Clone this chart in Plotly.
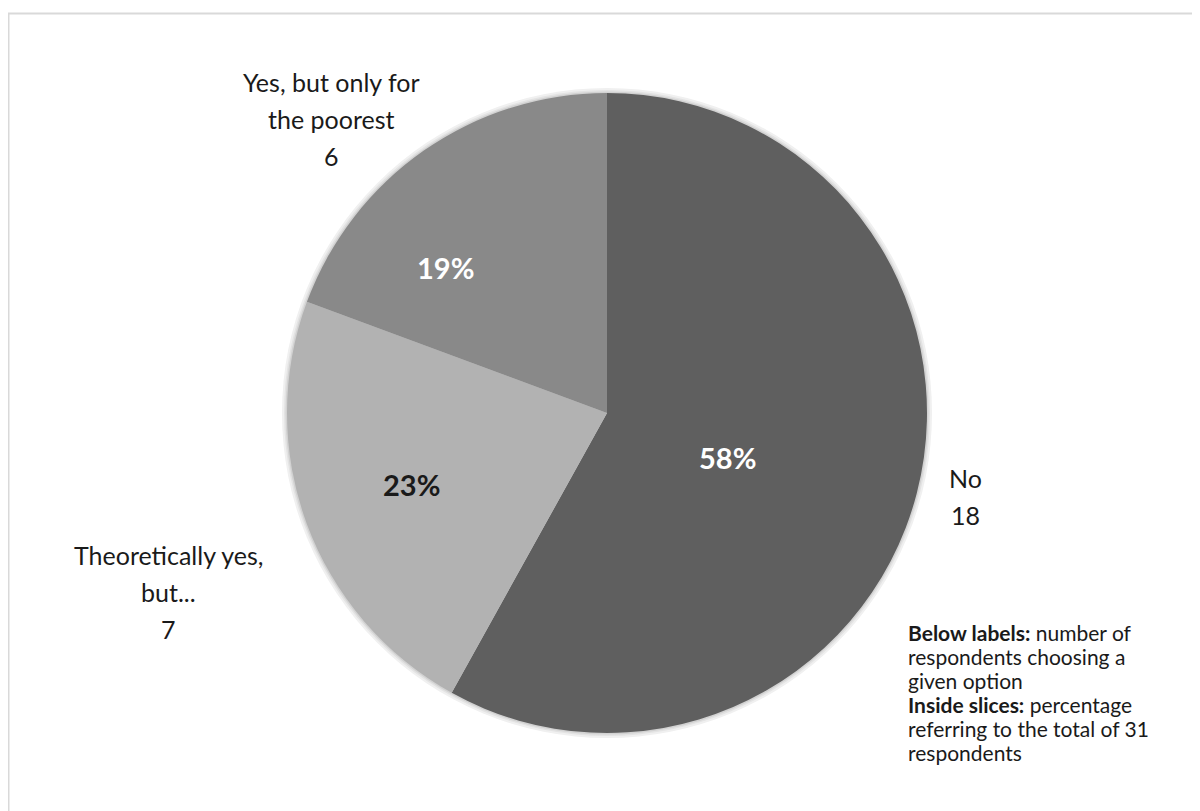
import plotly.graph_objects as go

categories = ["No", "Theoretically yes, but...", "Yes, but only for the poorest"]
counts = [18, 7, 6]
slice_colors = ["#5f5f5f", "#b2b2b2", "#898989"]
pct_colors = ["#ffffff", "#1a1a1a", "#ffffff"]
label_lines = [["No", "18"], ["Theoretically yes,", "but...", "7"], ["Yes, but only for", "the poorest", "6"]]

W, H = 1200, 811
OFF = 8  # page body margin offset
FONT = "Lato, 'Open Sans', sans-serif"


def px(x):
    return (x - OFF) / W


def py(y):
    return 1 - (y - OFF) / H


fig = go.Figure()
# soft shadow behind the pie
for grow, col in [(5, "#f0f0f0"), (3, "#e3e3e3"), (1.5, "#d2d2d2")]:
    fig.add_trace(go.Pie(
        labels=["shadow"], values=[1], sort=False,
        marker=dict(colors=[col], line=dict(width=0)),
        textinfo="none", hoverinfo="skip", showlegend=False,
        domain=dict(x=[px(287 - grow), px(927 + grow)], y=[py(733 + grow), py(93 - grow)]),
    ))

fig.add_trace(go.Pie(
    labels=categories,
    values=counts,
    sort=False,
    direction="clockwise",
    rotation=0,
    marker=dict(colors=slice_colors, line=dict(width=0)),
    textinfo="none",
    hoverinfo="label+value+percent",
    domain=dict(x=[px(287), px(927)], y=[py(733), py(93)]),
    showlegend=False,
))

anns = []
# percentages inside slices
total = sum(counts)
pct_pos = [(727, 457), (411, 484), (445, 267)]
for c, col, (ax, ay) in zip(counts, pct_colors, pct_pos):
    anns.append(dict(x=px(ax), y=py(ay), xref="paper", yref="paper",
                     text=f"<b>{round(100 * c / total)}%</b>", showarrow=False,
                     xanchor="center", yanchor="middle",
                     font=dict(family=FONT, size=29, color=col)))

# outside labels (category name + count)
label_anchor = [(965, 478), (168, 555), (331, 82)]
for lines, (ax, ay) in zip(label_lines, label_anchor):
    for i, t in enumerate(lines):
        anns.append(dict(x=px(ax), y=py(ay + i * 37), xref="paper", yref="paper",
                         text=t, showarrow=False, xanchor="center", yanchor="middle",
                         font=dict(family=FONT, size=25, color="#1a1a1a")))

note_lines = [
    "<b>Below labels:</b> number of",
    "respondents choosing a",
    "given option",
    "<b>Inside slices:</b> percentage",
    f"referring to the total of {total}",
    "respondents",
]
for i, t in enumerate(note_lines):
    anns.append(dict(x=px(906), y=py(632 + i * 24), xref="paper", yref="paper",
                     text=t, showarrow=False, xanchor="left", yanchor="middle",
                     font=dict(family=FONT, size=21, color="#1a1a1a")))

fig.update_layout(
    width=W, height=H,
    margin=dict(l=0, r=0, t=0, b=0),
    paper_bgcolor="white",
    plot_bgcolor="white",
    annotations=anns,
    shapes=[dict(type="rect", xref="paper", yref="paper",
                 x0=px(8.5), x1=1.05, y0=-0.05, y1=py(13.5),
                 line=dict(color="#d9d9d9", width=2), fillcolor="rgba(0,0,0,0)", layer="below")],
)

fig.write_html("out.html")
